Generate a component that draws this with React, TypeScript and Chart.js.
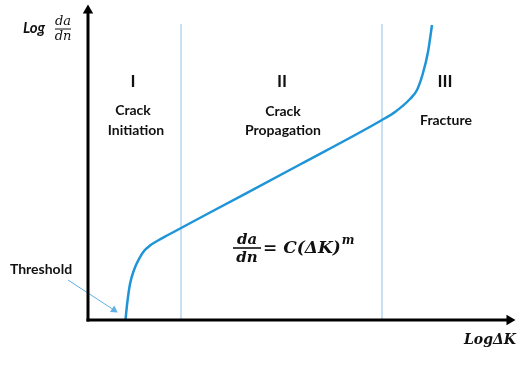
import React, { useEffect, useRef } from 'react';
import { Chart, registerables } from 'chart.js';

Chart.register(...registerables);

// Curve: log(da/dn) versus log(ΔK) (axis origin = 0,0)
const curveX = [37.5, 39, 42, 46, 51, 56, 62, 70, 80, 94, 122, 212, 294, 307, 322, 329, 335, 340, 344];
const curveY = [0, 15, 36, 50, 61, 69, 74.5, 79.5, 85, 92.5, 107.5, 155.5, 200, 208, 221, 230, 247, 268, 295];

// Region boundaries (I | II | III)
const regionX = [93, 294];
const regionTop = 296;

// Axis extents
const axisXMax = 427;
const axisYMax = 315;

// Threshold pointer
const thresholdFrom = { x: -20, y: 40 };
const thresholdTo = { x: 26, y: 10 };

const romanLabels = ['I', 'II', 'III'];
const regionNames = [['Crack', 'Initiation'], ['Crack', 'Propagation'], ['Fracture']];

const X_MIN = -88, X_MAX = 435, Y_MIN = -62, Y_MAX = 320;

const CURVE = '#1f95d8';
const REGION = '#8ec0e8';
const POINTER = '#5fb0e2';
const TEXT = '#111111';

const SANS = 'Lato, "Open Sans", sans-serif';
const SERIF = '"DejaVu Serif", serif';

export default function App() {
  const ref = useRef<HTMLCanvasElement | null>(null);

  useEffect(() => {
    document.body.style.margin = '0';
    const canvas = ref.current;
    if (!canvas) return;

    const curve = curveX.map((x, i) => ({ x, y: curveY[i] }));
    const regionSets = regionX.map((x) => ({
      data: [{ x, y: 0 }, { x, y: regionTop }],
      borderColor: REGION,
      borderWidth: 1,
      pointRadius: 0,
      order: 3,
    }));

    const chart = new Chart(canvas, {
      type: 'line',
      data: {
        datasets: [
          ...regionSets,
          {
            data: curve,
            borderColor: CURVE,
            borderWidth: 2.5,
            pointRadius: 0,
            cubicInterpolationMode: 'monotone',
            order: 2,
          } as any,
          {
            data: [thresholdFrom, thresholdTo],
            borderColor: POINTER,
            backgroundColor: POINTER,
            borderWidth: 1,
            pointRadius: [0, 4.5],
            pointBorderWidth: 0,
            pointStyle: 'triangle',
            pointRotation: [0, 123],
            order: 2,
          } as any,
          {
            data: [{ x: 0, y: 0 }, { x: 0, y: axisYMax - 5.5 }],
            borderColor: '#000',
            backgroundColor: '#000',
            borderWidth: 3,
            borderCapStyle: 'square',
            pointRadius: [0, 6],
            pointBorderWidth: 0,
            pointStyle: 'triangle',
            pointRotation: [0, 0],
            order: 1,
          } as any,
          {
            data: [{ x: 0, y: 0 }, { x: axisXMax - 5.5, y: 0 }],
            borderColor: '#000',
            backgroundColor: '#000',
            borderWidth: 3,
            borderCapStyle: 'square',
            pointRadius: [0, 6],
            pointBorderWidth: 0,
            pointStyle: 'triangle',
            pointRotation: [0, 90],
            order: 1,
          } as any,
        ],
      },
      options: {
        animation: false,
        responsive: false,
        maintainAspectRatio: false,
        layout: { padding: 0, autoPadding: false },
        plugins: { legend: { display: false }, tooltip: { enabled: false } },
        events: [],
        scales: {
          x: { type: 'linear', min: X_MIN, max: X_MAX, display: false },
          y: { type: 'linear', min: Y_MIN, max: Y_MAX, display: false },
        },
      },
      plugins: [
        {
          id: 'schematicText',
          afterDatasetsDraw(c: any) {
            const { ctx } = c;
            const sx = c.scales.x;
            const sy = c.scales.y;
            const px = (v: number) => sx.getPixelForValue(v);
            const py = (v: number) => sy.getPixelForValue(v);
            ctx.save();
            ctx.fillStyle = TEXT;
            ctx.strokeStyle = TEXT;
            ctx.textBaseline = 'alphabetic';
            const text = (s: string, x: number, y: number, font: string, align: CanvasTextAlign = 'center') => {
              ctx.font = font;
              ctx.textAlign = align;
              ctx.fillText(s, px(x), py(y));
            };
            const romanX = [45, 194, 357];
            romanLabels.forEach((r, i) => text(r, romanX[i], 233, `bold 17px ${SANS}`));
            text(regionNames[0][0], 45, 205, `bold 14px ${SANS}`);
            text(regionNames[0][1], 48, 185, `bold 14px ${SANS}`);
            text(regionNames[1][0], 195, 204, `bold 14px ${SANS}`);
            text(regionNames[1][1], 195, 185, `bold 14px ${SANS}`);
            text(regionNames[2][0], 358, 195, `bold 14px ${SANS}`);
            text('Threshold', -47, 46, `bold 14px ${SANS}`);

            const frac = (num: string, den: string, cx: number, barY: number, font: string, lw: number, half: number, gapUp: number, gapDown: number) => {
              ctx.font = font;
              ctx.textAlign = 'center';
              ctx.fillText(num, px(cx), py(barY) - gapUp);
              ctx.fillText(den, px(cx), py(barY) + gapDown);
              ctx.lineWidth = lw;
              ctx.beginPath();
              ctx.moveTo(px(cx) - half, py(barY));
              ctx.lineTo(px(cx) + half, py(barY));
              ctx.stroke();
            };

            text('Log', -65, 287, `bold italic 15px ${SANS}`, 'left');
            frac('da', 'dn', -25, 291, `italic 13px ${SERIF}`, 1, 8, 4, 11);

            text('LogΔK', 428, -24, `bold italic 14px ${SERIF}`, 'right');

            frac('da', 'dn', 159, 72, `bold italic 15px ${SERIF}`, 1.6, 14, 4, 14);
            ctx.font = `bold italic 17px ${SERIF}`;
            ctx.textAlign = 'left';
            const base = py(67);
            let cur = px(175);
            ctx.fillText('= C(ΔK)', cur, base);
            cur += ctx.measureText('= C(ΔK)').width + 1;
            ctx.font = `bold italic 12px ${SERIF}`;
            ctx.fillText('m', cur, base - 9);
            ctx.restore();
          },
        },
      ],
    });
    return () => chart.destroy();
  }, []);

  return (
    <div style={{ width: 523, height: 382, background: '#fff' }}>
      <canvas ref={ref} width={523} height={382} style={{ display: 'block' }} />
    </div>
  );
}
